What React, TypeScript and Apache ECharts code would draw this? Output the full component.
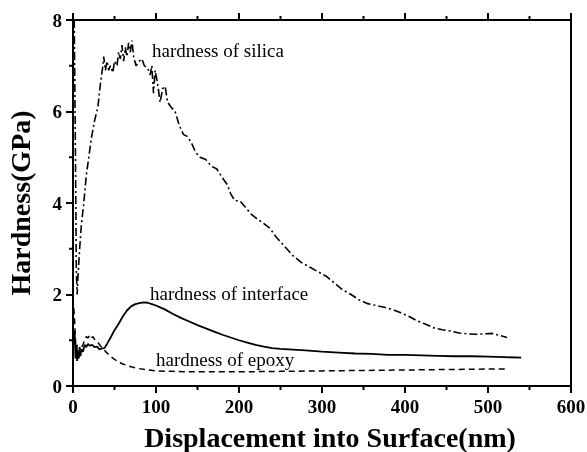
import React, { useEffect, useRef } from "react";
import * as echarts from "echarts";

const xTicks = [0, 100, 200, 300, 400, 500, 600];
const xMinorTicks = [50, 150, 250, 350, 450, 550];
const yTicks = [0, 2, 4, 6, 8];
const yMinorTicks = [1, 3, 5, 7];

const silica: [number, number][] = [
  [1.5, 8.0], [3, 5.0], [4, 2.5], [5, 2.0], [6, 2.4], [8, 3.0], [10, 3.5], [13, 4.0],
  [16, 4.6], [19, 5.0], [22, 5.4], [26, 5.8], [30, 6.1], [33, 6.6], [36, 7.0], [37, 7.2],
  [39, 6.9], [41, 7.1], [43, 6.9], [45, 7.0], [48, 6.85], [50, 7.1], [53, 7.0], [55, 7.3],
  [57, 7.15], [59, 7.45], [61, 7.1], [63, 7.4], [65, 7.2], [67, 7.5], [69, 7.3], [71, 7.55],
  [73, 7.2], [76, 7.0], [80, 7.1], [83, 7.15], [86, 7.0], [90, 6.95], [93, 6.8], [95, 7.0],
  [97, 6.4], [99, 6.9], [102, 6.6], [105, 6.2], [108, 6.5], [111, 6.55], [114, 6.2], [118, 6.1],
  [123, 6.0], [128, 5.7], [133, 5.5], [138, 5.45], [143, 5.3], [148, 5.1], [153, 5.0], [160, 4.95],
  [167, 4.8], [173, 4.75], [180, 4.55], [186, 4.4], [190, 4.2], [195, 4.05], [201, 4.05], [208, 3.9],
  [215, 3.75], [222, 3.65], [230, 3.55], [237, 3.45], [245, 3.25], [255, 3.05], [265, 2.85], [275, 2.7],
  [285, 2.6], [295, 2.5], [305, 2.4], [315, 2.25], [325, 2.1], [335, 2.0], [345, 1.88], [355, 1.8],
  [365, 1.76], [375, 1.72], [385, 1.67], [395, 1.6], [405, 1.52], [415, 1.42], [425, 1.35], [435, 1.27],
  [445, 1.23], [455, 1.2], [465, 1.16], [475, 1.14], [485, 1.13], [495, 1.14], [505, 1.15], [515, 1.1],
  [523, 1.06],
];

const interfaceData: [number, number][] = [
  [1, 0.9], [2, 1.2], [3, 0.6], [4, 0.9], [5, 0.55], [6, 0.75], [7, 0.6], [8, 0.85], [9, 0.65],
  [10, 0.8], [12, 0.75], [14, 0.9], [16, 0.85], [18, 0.92], [20, 0.88], [23, 0.9], [26, 0.85],
  [29, 0.86], [32, 0.8], [35, 0.82], [38, 0.83], [41, 0.92], [45, 1.05], [50, 1.22], [55, 1.36],
  [60, 1.52], [65, 1.65], [70, 1.74], [75, 1.79], [80, 1.81], [85, 1.83], [90, 1.82], [95, 1.79],
  [100, 1.76], [105, 1.72], [110, 1.68], [120, 1.58], [130, 1.49], [140, 1.41], [150, 1.33],
  [160, 1.26], [170, 1.19], [180, 1.12], [190, 1.06], [200, 1.0], [210, 0.95], [220, 0.9],
  [230, 0.86], [240, 0.83], [250, 0.81], [260, 0.8], [270, 0.79], [280, 0.78], [300, 0.75],
  [320, 0.73], [340, 0.71], [360, 0.7], [380, 0.68], [400, 0.68], [420, 0.67], [440, 0.66],
  [460, 0.65], [480, 0.65], [500, 0.64], [520, 0.63], [540, 0.62],
];

const epoxy: [number, number][] = [
  [1, 1.7], [2, 1.4], [3, 1.0], [4, 0.7], [5, 0.9], [6, 0.6], [7, 0.8], [8, 0.7], [10, 0.85],
  [12, 0.9], [14, 1.0], [16, 1.08], [18, 1.05], [20, 1.1], [22, 1.04], [24, 1.08], [26, 1.02],
  [28, 1.0], [30, 0.95], [33, 0.88], [36, 0.82], [40, 0.74], [45, 0.65], [50, 0.58], [55, 0.53],
  [60, 0.48], [65, 0.45], [70, 0.42], [80, 0.38], [90, 0.35], [100, 0.33], [120, 0.32], [140, 0.31],
  [160, 0.31], [200, 0.31], [250, 0.32], [300, 0.33], [350, 0.34], [400, 0.35], [450, 0.36],
  [500, 0.37], [523, 0.37],
];

const labels = {
  silica: "hardness of silica",
  interface: "hardness of interface",
  epoxy: "hardness of epoxy",
  xTitle: "Displacement into Surface(nm)",
  yTitle: "Hardness(GPa)",
};

const FAMILY = "Liberation Serif";
const X_MIN = xTicks[0];
const X_MAX = xTicks[xTicks.length - 1];
const Y_MIN = yTicks[0];
const Y_MAX = yTicks[yTicks.length - 1];

function tickSeries(values: number[], side: string, len: number) {
  return {
    type: "custom",
    clip: false,
    silent: true,
    data: values.map((v) => [v]),
    renderItem: (_params: any, api: any) => {
      const v = api.value(0);
      let p: number[];
      let dx = 0;
      let dy = 0;
      if (side === "top") { p = api.coord([v, Y_MAX]); dy = -len; }
      else if (side === "bottom") { p = api.coord([v, Y_MIN]); dy = len; }
      else { p = api.coord([X_MIN, v]); dx = -len; }
      return {
        type: "line",
        shape: { x1: p[0], y1: p[1], x2: p[0] + dx, y2: p[1] + dy },
        style: { stroke: "#000", lineWidth: 2 },
      };
    },
  };
}

function note(text: string, left: number, top: number) {
  return {
    text, left, top,
    padding: 0,
    textStyle: { color: "#000", fontSize: 19, fontWeight: "normal", fontFamily: FAMILY },
  };
}

export default function App() {
  const ref = useRef<HTMLDivElement>(null);
  useEffect(() => {
    if (!ref.current) return;
    const chart = echarts.init(ref.current, undefined, { renderer: "svg" });
    chart.setOption({
      animation: false,
      title: [
        note(labels.silica, 152, 41),
        note(labels.interface, 150, 284),
        note(labels.epoxy, 156, 350),
      ],
      grid: {
        left: 73, right: 16, top: 20, bottom: 66,
        containLabel: false, outerBoundsMode: "none",
        show: true, borderColor: "#000", borderWidth: 2,
      },
      xAxis: {
        type: "value", min: X_MIN, max: X_MAX, interval: 100,
        name: labels.xTitle, nameLocation: "middle", nameGap: 37,
        nameTextStyle: { color: "#000", fontSize: 28, fontWeight: "bold", fontFamily: FAMILY, padding: [0, 0, 0, 16] },
        axisLine: { show: true, onZero: false, lineStyle: { color: "#000", width: 2 } },
        axisTick: { show: true, length: 7, lineStyle: { color: "#000", width: 2 } },
        axisLabel: { fontWeight: "bold", fontSize: 19, color: "#000", fontFamily: FAMILY, margin: 11 },
        splitLine: { show: false },
      },
      yAxis: {
        type: "value", min: Y_MIN, max: Y_MAX, interval: 2,
        name: labels.yTitle, nameLocation: "middle", nameGap: 39,
        nameTextStyle: { color: "#000", fontSize: 28, fontWeight: "bold", fontFamily: FAMILY },
        axisLine: { show: true, onZero: false, lineStyle: { color: "#000", width: 2 } },
        axisTick: { show: true, length: 7, lineStyle: { color: "#000", width: 2 } },
        axisLabel: { fontWeight: "bold", fontSize: 19, color: "#000", fontFamily: FAMILY, margin: 11 },
        splitLine: { show: false },
      },
      series: [
        {
          type: "line", data: silica, showSymbol: false,
          lineStyle: { color: "#000", width: 1.6, type: [8, 3, 2, 3] },
        },
        {
          type: "line", data: interfaceData, showSymbol: false,
          lineStyle: { color: "#000", width: 1.8 },
        },
        {
          type: "line", data: epoxy, showSymbol: false,
          lineStyle: { color: "#000", width: 1.5, type: [6, 4] },
        },
        tickSeries(xTicks, "top", 7),
        tickSeries(xMinorTicks, "top", 4),
        tickSeries(xMinorTicks, "bottom", 4),
        tickSeries(yMinorTicks, "left", 4),
      ],
    });
    return () => chart.dispose();
  }, []);
  return <div ref={ref} style={{ position: "fixed", left: 0, top: 0, width: 587, height: 452 }} />;
}
